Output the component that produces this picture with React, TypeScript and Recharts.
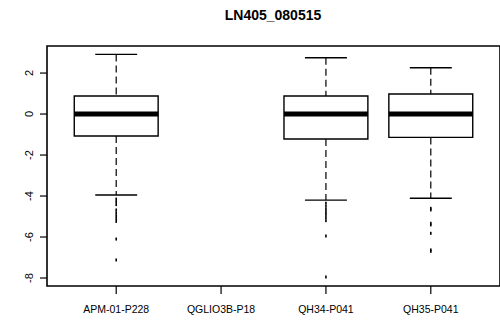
import React from "react";
import {
  ComposedChart,
  XAxis,
  YAxis,
  Scatter,
  ReferenceArea,
  ReferenceLine,
} from "recharts";

const categories = ["APM-01-P228", "QGLIO3B-P18", "QH34-P041", "QH35-P041"];
const positions = [1, 2, 3, 4];
const whiskerLow = [-3.95, null, -4.2, -4.11];
const q1 = [-1.07, null, -1.22, -1.14];
const median = [0, null, 0, 0];
const q3 = [0.88, null, 0.88, 0.98];
const whiskerHigh = [2.91, null, 2.75, 2.26];
const outliers = [
  [-4.15, -4.28, -4.42, -4.68, -4.82, -4.96, -5.1, -5.24, -6.1, -7.12],
  [],
  [-4.35, -4.5, -4.65, -4.78, -4.9, -5.05, -5.2, -5.95, -7.95],
  [-4.6, -4.68, -5.33, -5.41, -5.82, -6.63, -6.7],
];
const yTicks = [-8, -6, -4, -2, 0, 2];

const X_DOMAIN: [number, number] = [0.34, 4.66];
const Y_DOMAIN: [number, number] = [-8.39, 3.32];
const BOX_HALF = 0.4;
const CAP_HALF = 0.2;
const FONT = "'Liberation Sans', Arial, sans-serif";

const outlierPoints = outliers.flatMap((list, i) =>
  list.map((v) => ({ x: positions[i], y: v }))
);

function YTick({ x, y, payload }: any) {
  const bx = x - 7;
  return (
    <text
      x={bx}
      y={y}
      transform={`rotate(-90 ${bx} ${y})`}
      textAnchor="middle"
      style={{ fontFamily: FONT, fontSize: 11, fill: "#000" }}
    >
      {payload.value}
    </text>
  );
}

function XTick({ x, y, payload }: any) {
  const idx = positions.indexOf(payload.value);
  return (
    <text
      x={x}
      y={y + 19}
      textAnchor="middle"
      style={{ fontFamily: FONT, fontSize: 10.5, fill: "#000" }}
    >
      {categories[idx]}
    </text>
  );
}

function Dot({ cx, cy }: any) {
  return <rect x={cx - 0.8} y={cy - 1.5} width={1.6} height={3} fill="#000" />;
}

export default function App() {
  const boxes = positions.filter((_, i) => median[i] !== null);
  return (
    <div style={{ position: "absolute", left: 0, top: 0, width: 500, height: 320, background: "#fff" }}>
      <div
        style={{
          position: "absolute",
          left: 173,
          top: 8,
          width: 200,
          textAlign: "center",
          fontFamily: FONT,
          fontWeight: 700,
          fontSize: 14,
          lineHeight: "14px",
          color: "#000",
        }}
      >
        LN405_080515
      </div>
      <ComposedChart width={500} height={320} margin={{ top: 46, right: 0, left: 0, bottom: 0 }}>
        <XAxis
          type="number"
          dataKey="x"
          domain={X_DOMAIN}
          allowDataOverflow
          ticks={positions}
          interval={0}
          tickSize={8}
          tickMargin={0}
          height={34}
          axisLine={false}
          tickLine={{ stroke: "#000", strokeWidth: 1.2 }}
          tick={<XTick />}
        />
        <YAxis
          type="number"
          dataKey="y"
          domain={Y_DOMAIN}
          allowDataOverflow
          ticks={yTicks}
          interval={0}
          width={47}
          tickSize={7}
          tickMargin={0}
          axisLine={false}
          tickLine={{ stroke: "#000", strokeWidth: 1.2 }}
          tick={<YTick />}
        />
        <ReferenceArea
          x1={X_DOMAIN[0]}
          x2={X_DOMAIN[1]}
          y1={Y_DOMAIN[0]}
          y2={Y_DOMAIN[1]}
          fill="none"
          stroke="#000"
          strokeWidth={1.6}
          fillOpacity={0}
        />
        {boxes.map((p) => {
          const i = positions.indexOf(p);
          return (
            <React.Fragment key={`w${p}`}>
              <ReferenceLine
                segment={[
                  { x: p, y: whiskerHigh[i] as number },
                  { x: p, y: q3[i] as number },
                ]}
                stroke="#000"
                strokeWidth={1.2}
                strokeDasharray="7 4"
              />
              <ReferenceLine
                segment={[
                  { x: p, y: q1[i] as number },
                  { x: p, y: whiskerLow[i] as number },
                ]}
                stroke="#000"
                strokeWidth={1.2}
                strokeDasharray="7 4"
              />
              <ReferenceLine
                segment={[
                  { x: p - CAP_HALF, y: whiskerHigh[i] as number },
                  { x: p + CAP_HALF, y: whiskerHigh[i] as number },
                ]}
                stroke="#000"
                strokeWidth={1.4}
              />
              <ReferenceLine
                segment={[
                  { x: p - CAP_HALF, y: whiskerLow[i] as number },
                  { x: p + CAP_HALF, y: whiskerLow[i] as number },
                ]}
                stroke="#000"
                strokeWidth={1.4}
              />
              <ReferenceArea
                x1={p - BOX_HALF}
                x2={p + BOX_HALF}
                y1={q1[i] as number}
                y2={q3[i] as number}
                fill="#fff"
                fillOpacity={1}
                stroke="#000"
                strokeWidth={1.4}
              />
              <ReferenceLine
                segment={[
                  { x: p - BOX_HALF, y: median[i] as number },
                  { x: p + BOX_HALF, y: median[i] as number },
                ]}
                stroke="#000"
                strokeWidth={5}
              />
            </React.Fragment>
          );
        })}
        <Scatter data={outlierPoints} shape={<Dot />} isAnimationActive={false} />
      </ComposedChart>
    </div>
  );
}
